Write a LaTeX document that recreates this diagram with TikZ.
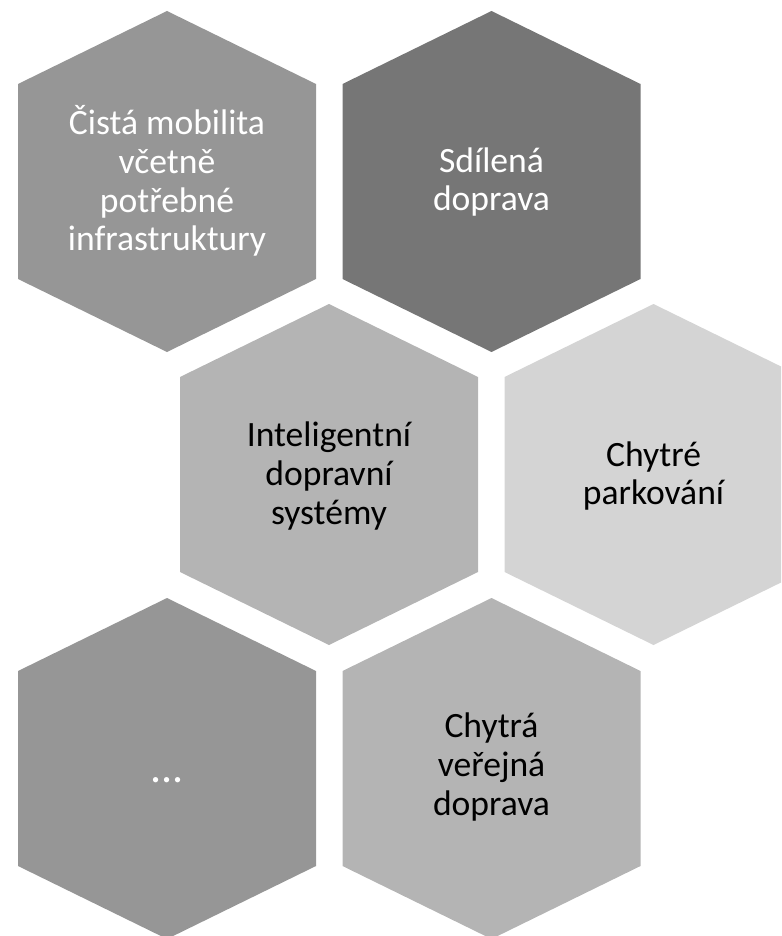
\documentclass[tikz,border=0pt]{standalone}
\usepackage{fontspec}
\setmainfont{Carlito}
\usepackage{xcolor}
\usepackage{tikz}

\definecolor{hexmid}{gray}{0.588}
\definecolor{hexdark}{gray}{0.463}
\definecolor{hexlight}{gray}{0.706}
\definecolor{hexpale}{gray}{0.831}

% hexagon cell: centre x, centre y, fill colour
\newcommand{\hexcell}[3]{%
  \fill[#3] (#1,#2) ++(0,-170.5) -- ++(149,73) -- ++(0,195) -- ++(-149,73)
    -- ++(-149,-73) -- ++(0,-195) -- cycle;}

\begin{document}
\begin{tikzpicture}[x=0.5pt, y=-0.5pt,
    hextext/.style={align=center, font=\fontsize{17.8}{19.4}\selectfont}]
    \useasboundingbox (0,0) rectangle (781,936);
    \clip (0,0) rectangle (781,936);

    % Cells
    \hexcell{167}{181.5}{hexmid}
    \hexcell{491.5}{181.5}{hexdark}
    \hexcell{329}{474.5}{hexlight}
    \hexcell{653.5}{474.5}{hexpale}
    \hexcell{167}{768.5}{hexmid}
    \hexcell{491.5}{768.5}{hexlight}

    % Labels
    \node[hextext, text=white] (clean) at (167,181) {Čistá mobilita\\včetně\\potřebné\\infrastruktury};
    \node[hextext, text=white] (shared) at (491.5,182) {Sdílená\\doprava};
    \node[hextext] (its) at (329,476) {Inteligentní\\dopravní\\systémy};
    \node[hextext] (parking) at (653.5,476) {Chytré\\parkování};
    \node[hextext, text=white, font=\fontsize{22}{22}\selectfont] (more) at (167,780) {...};
    \node[hextext] (transit) at (491.5,767) {Chytrá\\veřejná\\doprava};
\end{tikzpicture}
\end{document}
